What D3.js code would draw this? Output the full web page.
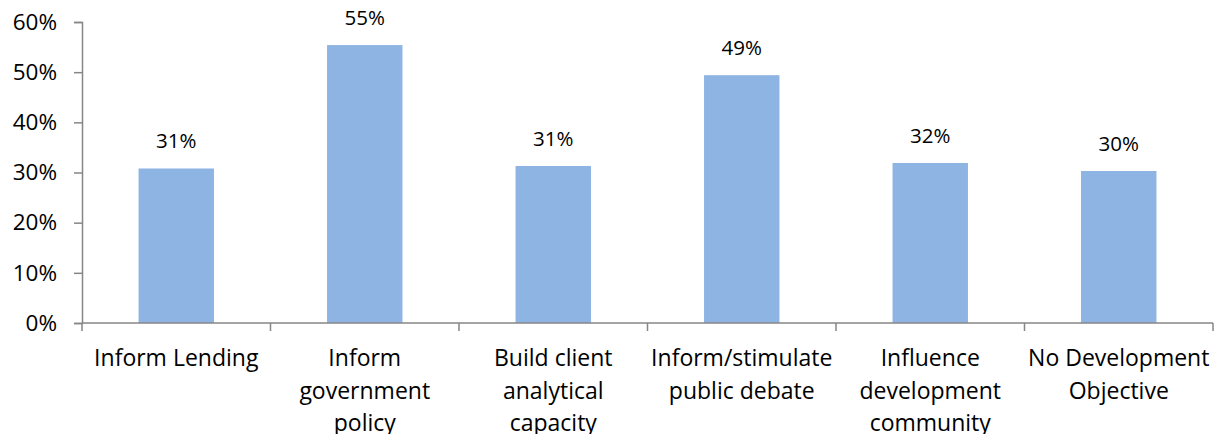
<!DOCTYPE html>
<html>
<head>
<meta charset="utf-8">
<script src="https://cdn.jsdelivr.net/npm/d3@7"></script>
<style>
  body { margin: 0; background: #fff; }
  text { font-family: "Open Sans", Lato, sans-serif; fill: #000; }
</style>
</head>
<body>
<svg id="chart" width="1215" height="434"></svg>
<script>
// categories, values (percent) and tick labels
const categories = [
    ["Inform Lending"],
    ["Inform", "government", "policy"],
    ["Build client", "analytical", "capacity"],
    ["Inform/stimulate", "public debate"],
    ["Influence", "development", "community"],
    ["No Development", "Objective"]
];
const values = [30.8, 55.4, 31.3, 49.4, 31.9, 30.3];
const valueLabels = ["31%", "55%", "31%", "49%", "32%", "30%"];
const yTicks = [0, 10, 20, 30, 40, 50, 60];

const margin = { top: 22, right: 2, bottom: 111, left: 82 };
const width = 1215, height = 434;
const svg = d3.select("#chart");
const g = svg.append("g").attr("transform", `translate(${margin.left},${margin.top})`);
const innerW = width - margin.left - margin.right;
const innerH = height - margin.top - margin.bottom;

const x = d3.scaleBand()
    .domain(d3.range(categories.length))
    .range([0, innerW])
    .paddingInner(0.6)
    .paddingOuter(0.3);

const y = d3.scaleLinear().domain([0, 60]).range([innerH, 0]);

// bars
g.selectAll(".bar")
    .data(values)
    .enter().append("rect")
    .attr("class", "bar")
    .attr("x", (d, i) => x(i))
    .attr("y", d => y(d))
    .attr("width", x.bandwidth())
    .attr("height", d => innerH - y(d))
    .style("fill", "#8EB4E3");

// value labels
g.selectAll(".vlabel")
    .data(values)
    .enter().append("text")
    .attr("class", "vlabel")
    .attr("x", (d, i) => x(i) + x.bandwidth() / 2)
    .attr("y", d => y(d) - 20)
    .attr("text-anchor", "middle")
    .style("font-size", "20.5px")
    .text((d, i) => valueLabels[i]);

// y axis
const yAxis = g.append("g")
    .call(d3.axisLeft(y).tickValues(yTicks).tickFormat(d => d + "%").tickSize(8).tickPadding(17));
yAxis.select(".domain").attr("stroke", "#868686").attr("stroke-width", 1.5);
yAxis.selectAll(".tick line").attr("stroke", "#868686").attr("stroke-width", 1.5);
yAxis.selectAll(".tick text")
    .style("font-size", "22.5px")
    .style("font-family", "'Open Sans', Lato, sans-serif")
    .attr("fill", "#000");

// x axis line and category ticks
const step = innerW / categories.length;
const xAxis = g.append("g").attr("transform", `translate(0,${innerH})`);
xAxis.append("line")
    .attr("x1", 0).attr("x2", innerW)
    .attr("stroke", "#868686").attr("stroke-width", 1.5);
xAxis.selectAll(".xtick")
    .data(d3.range(categories.length + 1))
    .enter().append("line")
    .attr("x1", i => i * step).attr("x2", i => i * step)
    .attr("y1", 0).attr("y2", 8)
    .attr("stroke", "#868686").attr("stroke-width", 1.5);

// category labels
const cat = xAxis.selectAll(".cat")
    .data(categories)
    .enter().append("text")
    .attr("class", "cat")
    .attr("text-anchor", "middle")
    .attr("transform", (d, i) => `translate(${x(i) + x.bandwidth() / 2},43)`)
    .style("font-size", "23px");
cat.selectAll("tspan")
    .data(d => d)
    .enter().append("tspan")
    .attr("x", 0)
    .attr("y", (d, i) => i * 32.7)
    .text(d => d);
</script>
</body>
</html>
